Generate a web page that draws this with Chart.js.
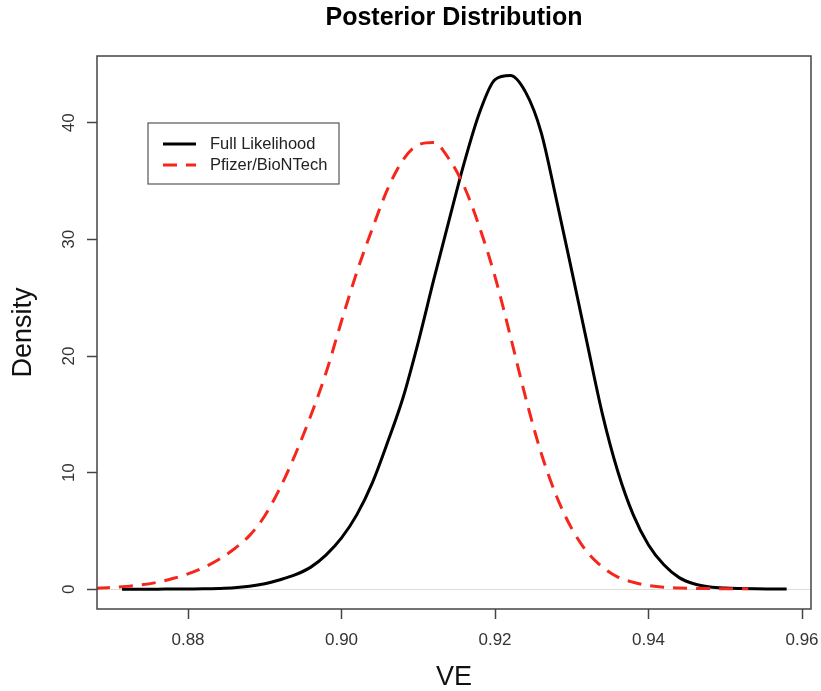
<!DOCTYPE html>
<html>
<head>
<meta charset="utf-8">
<script src="https://cdn.jsdelivr.net/npm/chart.js@4.4.1/dist/chart.umd.min.js"></script>
<style>
  html, body { margin: 0; padding: 0; background: #fff; }
  canvas { display: block; }
</style>
</head>
<body>
<canvas id="chartOne" width="821" height="691"></canvas>
<script>
// posterior density curves
let veFull = [0.8714, 0.874, 0.876, 0.878, 0.880, 0.882, 0.884, 0.886, 0.888, 0.890, 0.892, 0.894, 0.896, 0.898, 0.900, 0.902, 0.904, 0.906, 0.908, 0.910, 0.912, 0.914, 0.916, 0.918, 0.920, 0.922, 0.924, 0.926, 0.928, 0.930, 0.932, 0.934, 0.936, 0.938, 0.940, 0.942, 0.944, 0.946, 0.948, 0.950, 0.952, 0.954, 0.956, 0.958];
let densFull = [0.00, 0.00, 0.01, 0.02, 0.03, 0.04, 0.07, 0.13, 0.26, 0.48, 0.82, 1.25, 1.90, 2.95, 4.4, 6.4, 9.1, 12.6, 16.4, 21.2, 26.5, 31.6, 36.6, 40.9, 43.7, 44.05, 42.6, 39.2, 33.4, 27.3, 21.1, 15.0, 10.1, 6.4, 3.8, 2.1, 1.0, 0.45, 0.20, 0.10, 0.06, 0.04, 0.03, 0.02];

let vePfizer = [0.866, 0.868, 0.870, 0.872, 0.874, 0.876, 0.878, 0.880, 0.882, 0.884, 0.886, 0.888, 0.890, 0.892, 0.894, 0.896, 0.898, 0.900, 0.902, 0.904, 0.906, 0.908, 0.910, 0.912, 0.914, 0.916, 0.918, 0.920, 0.922, 0.924, 0.926, 0.928, 0.930, 0.932, 0.934, 0.936, 0.938, 0.940, 0.942, 0.944, 0.946, 0.948, 0.950, 0.952, 0.953];
let densPfizer = [0.05, 0.09, 0.15, 0.25, 0.38, 0.60, 0.92, 1.32, 1.85, 2.55, 3.45, 4.6, 6.3, 8.7, 11.6, 14.9, 18.6, 23.0, 27.2, 30.9, 34.3, 36.8, 38.1, 38.3, 36.9, 34.5, 31.0, 26.8, 21.7, 16.4, 11.7, 8.0, 5.2, 3.2, 1.9, 1.05, 0.6, 0.32, 0.17, 0.11, 0.08, 0.06, 0.05, 0.04, 0.04];

let seriesNames = ['Full Likelihood', 'Pfizer/BioNTech'];
let xTicks = [0.88, 0.90, 0.92, 0.94, 0.96];
let yTicks = [0, 10, 20, 30, 40];

const fam = '"Liberation Sans", Arial, Helvetica, sans-serif';

function toPoints(xs, ys) {
    return xs.map((v, i) => ({ x: v, y: ys[i] }));
}

// box round the plot, rotated y labels and the legend (R style)
const rFrame = {
    id: 'rFrame',
    afterDraw(chart) {
        const { ctx, chartArea: a, scales } = chart;
        ctx.save();
        ctx.strokeStyle = '#444';
        ctx.lineWidth = 1.5;
        ctx.strokeRect(a.left, a.top, a.right - a.left, a.bottom - a.top);

        ctx.fillStyle = '#333';
        ctx.font = '17px ' + fam;
        ctx.textAlign = 'center';
        ctx.textBaseline = 'middle';
        yTicks.forEach(v => {
            const y = scales.y.getPixelForValue(v);
            ctx.save();
            ctx.translate(69, y);
            ctx.rotate(-Math.PI / 2);
            ctx.fillText(String(v), 0, 0);
            ctx.restore();
        });

        const lx = a.left + 51, ly = a.top + 67, lw = 191, lh = 61;
        ctx.fillStyle = '#fff';
        ctx.fillRect(lx, ly, lw, lh);
        ctx.strokeStyle = '#555';
        ctx.lineWidth = 1.2;
        ctx.strokeRect(lx, ly, lw, lh);
        ctx.font = '16.5px ' + fam;
        chart.data.datasets.forEach((ds, i) => {
            const yy = ly + 21 + i * 21;
            ctx.strokeStyle = ds.borderColor;
            ctx.lineWidth = ds.borderWidth;
            ctx.setLineDash(ds.borderDash || []);
            ctx.beginPath();
            ctx.moveTo(lx + 15, yy);
            ctx.lineTo(lx + 48, yy);
            ctx.stroke();
            ctx.setLineDash([]);
            ctx.fillStyle = '#222';
            ctx.textAlign = 'left';
            ctx.fillText(ds.label, lx + 62, yy);
        });
        ctx.restore();
    }
};

const ctxOne = document.getElementById('chartOne').getContext('2d');

const chartOne = new Chart(ctxOne, {
    type: 'line',
    data: {
        datasets: [{
            label: seriesNames[0],
            data: toPoints(veFull, densFull),
            borderColor: '#000000',
            borderWidth: 3,
            pointRadius: 0,
            cubicInterpolationMode: 'monotone',
            order: 1
        }, {
            label: seriesNames[1],
            data: toPoints(vePfizer, densPfizer),
            borderColor: '#f5261b',
            borderWidth: 3,
            borderDash: [14, 9],
            pointRadius: 0,
            cubicInterpolationMode: 'monotone',
            order: 0
        }]
    },
    options: {
        responsive: false,
        animation: false,
        devicePixelRatio: 1,
        layout: { padding: { left: 0, right: 10, top: 0, bottom: 0 } },
        plugins: {
            legend: { display: false },
            tooltip: { enabled: false },
            title: {
                display: true,
                text: 'Posterior Distribution',
                fullSize: false,
                color: '#000',
                font: { family: fam, size: 25, weight: 'bold', lineHeight: 1.2 },
                padding: { top: 3, bottom: 23 }
            }
        },
        scales: {
            x: {
                type: 'linear',
                min: 0.86814,
                max: 0.96117,
                afterBuildTicks: s => { s.ticks = xTicks.map(v => ({ value: v })); },
                afterFit: s => { s.height = 82; s.paddingLeft = 0; s.paddingRight = 0; },
                grid: { drawOnChartArea: false, tickLength: 10, tickColor: '#444', tickWidth: 1.5 },
                border: { display: false },
                ticks: {
                    color: '#333',
                    font: { family: fam, size: 17 },
                    padding: 11,
                    maxRotation: 0,
                    autoSkip: false,
                    callback: v => Number(v).toFixed(2)
                },
                title: {
                    display: true,
                    text: 'VE',
                    color: '#111',
                    font: { family: fam, size: 27, lineHeight: 1 },
                    padding: 0
                }
            },
            y: {
                min: -1.69,
                max: 45.72,
                afterBuildTicks: s => { s.ticks = yTicks.map(v => ({ value: v })); },
                afterFit: s => { s.width = 97; },
                grid: {
                    color: c => (c.tick && c.tick.value === 0) ? '#dcdcdc' : 'rgba(0,0,0,0)',
                    lineWidth: 1,
                    tickLength: 10,
                    tickColor: '#444',
                    tickWidth: 1.5
                },
                border: { display: false },
                ticks: { display: false },
                title: {
                    display: true,
                    text: 'Density',
                    color: '#111',
                    font: { family: fam, size: 27, lineHeight: 1 },
                    padding: { top: 10, bottom: 0 }
                }
            }
        }
    },
    plugins: [rFrame]
});
</script>
</body>
</html>
